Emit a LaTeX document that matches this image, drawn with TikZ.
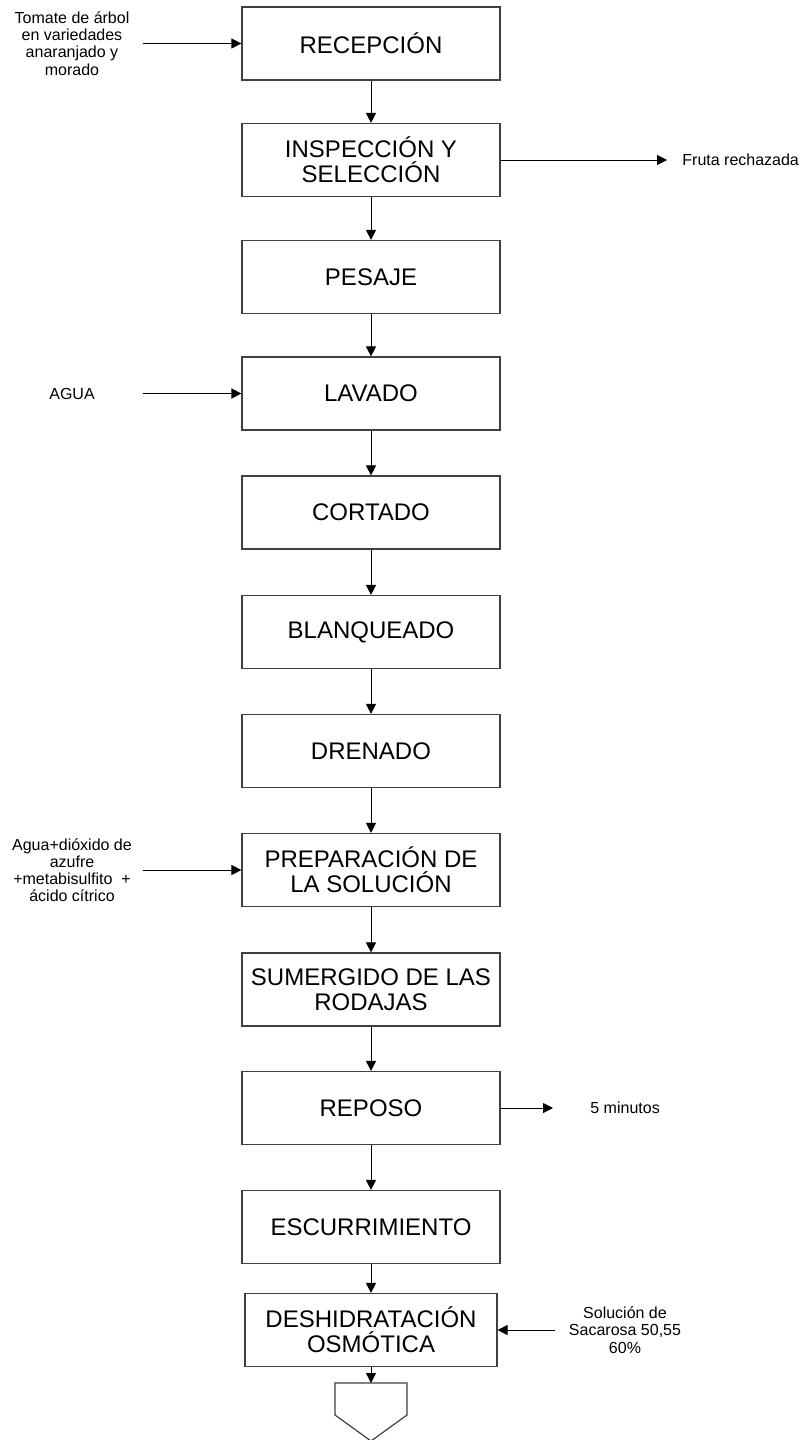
\documentclass[tikz,border=0pt]{standalone}
\usepackage{fontspec}
\setmainfont{Liberation Sans}
\usepackage{tikz}
\usetikzlibrary{arrows.meta}

\begin{document}
\begin{tikzpicture}[%
      x=0.5pt, y=-0.5pt,
      paso/.style={draw=black!75, line width=0.6pt, minimum width=129pt, minimum height=36.5pt,
        align=center, inner sep=1pt, font=\fontsize{12}{12.5}\selectfont},
      nota/.style={align=center, inner sep=0pt, font=\fontsize{8}{8.6}\selectfont},
      flujo/.style={color=black, line width=0.5pt, -{Triangle[length=5pt,width=5pt]}},
      ]
      \useasboundingbox (0,0) rectangle (803,1440);

      \node [paso] (recepcion) at (371,43.5) {RECEPCIÓN};
      \node [paso] (inspeccion) at (371,160) {INSPECCIÓN Y\\SELECCIÓN};
      \node [paso] (pesaje) at (371,277) {PESAJE};
      \node [paso] (lavado) at (371,393.5) {LAVADO};
      \node [paso] (cortado) at (371,512.5) {CORTADO};
      \node [paso] (blanqueado) at (371,632) {BLANQUEADO};
      \node [paso] (drenado) at (371,751) {DRENADO};
      \node [paso] (preparacion) at (371,870) {PREPARACIÓN DE\\LA SOLUCIÓN};
      \node [paso] (sumergido) at (371,989.5) {SUMERGIDO DE LAS\\RODAJAS};
      \node [paso] (reposo) at (371,1108) {REPOSO};
      \node [paso] (escurrimiento) at (371,1227) {ESCURRIMIENTO};
      \node [paso, minimum width=126pt] (deshidratacion) at (371,1330) {DESHIDRATACIÓN\\OSMÓTICA};

      \draw [color=black!75, line width=0.6pt] (335,1383) -- (407,1383) -- (407,1415) -- (371,1441) -- (335,1415) -- cycle;
      \coordinate (conector) at (371,1383);

      \draw [flujo] (recepcion) -- (inspeccion);
      \draw [flujo] (inspeccion) -- (pesaje);
      \draw [flujo] (pesaje) -- (lavado);
      \draw [flujo] (lavado) -- (cortado);
      \draw [flujo] (cortado) -- (blanqueado);
      \draw [flujo] (blanqueado) -- (drenado);
      \draw [flujo] (drenado) -- (preparacion);
      \draw [flujo] (preparacion) -- (sumergido);
      \draw [flujo] (sumergido) -- (reposo);
      \draw [flujo] (reposo) -- (escurrimiento);
      \draw [flujo] (escurrimiento) -- (deshidratacion);
      \draw [flujo] (deshidratacion) -- (conector);

      \node [nota] (tomate) at (72,43.5) {Tomate de árbol\\en variedades\\anaranjado y\\morado};
      \node [nota] (agua) at (72,393.5) {AGUA};
      \node [nota] (solucion) at (72,870) {Agua+dióxido de\\azufre\\+metabisulfito~~+\\ácido cítrico};
      \node [nota, anchor=west] (rechazo) at (682,160) {Fruta rechazada};
      \node [nota, anchor=west] (tiempo) at (590,1108) {5 minutos};
      \node [nota] (sacarosa) at (625,1330) {Solución de\\Sacarosa 50,55\\60\%};

      \coordinate (tomate-in) at (143,43.5);
      \coordinate (agua-in) at (143,393.5);
      \coordinate (solucion-in) at (143,870);
      \coordinate (rechazo-out) at (667,160);
      \coordinate (tiempo-out) at (553,1108);
      \coordinate (sacarosa-in) at (555,1330);

      \draw [flujo] (tomate-in) -- (recepcion);
      \draw [flujo] (agua-in) -- (lavado);
      \draw [flujo] (solucion-in) -- (preparacion);
      \draw [flujo] (inspeccion) -- (rechazo-out);
      \draw [flujo] (reposo) -- (tiempo-out);
      \draw [flujo] (sacarosa-in) -- (deshidratacion);
\end{tikzpicture}
\end{document}
